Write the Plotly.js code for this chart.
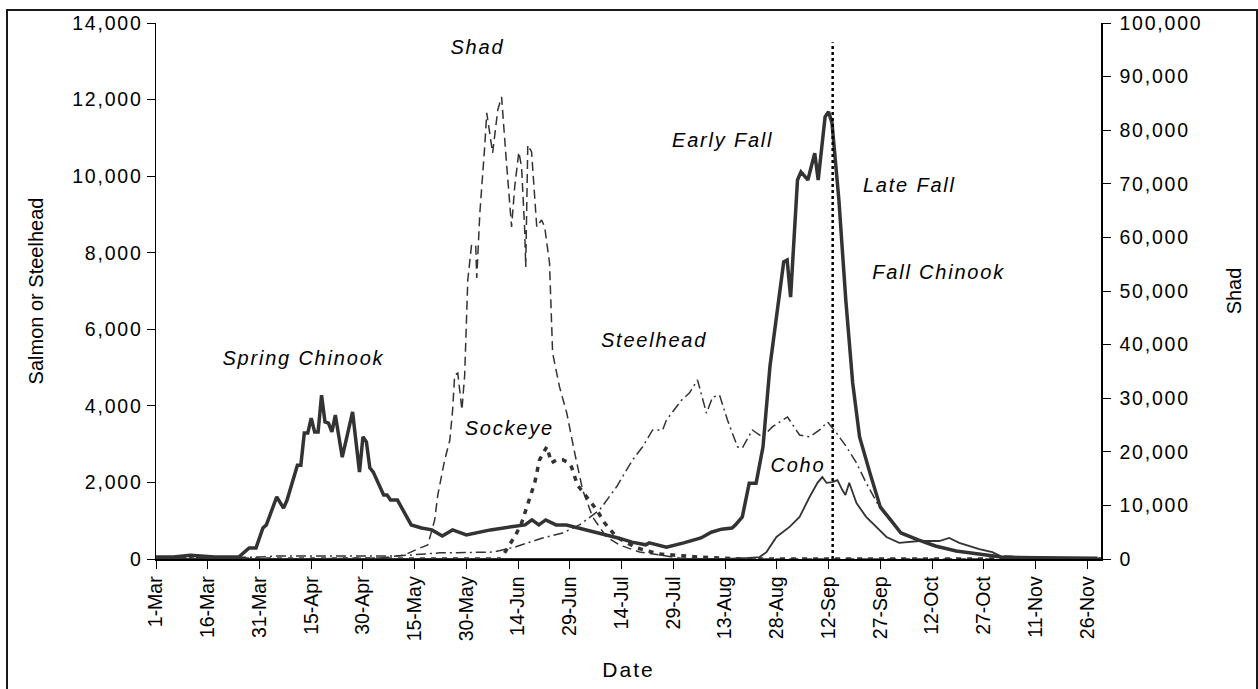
<!DOCTYPE html>
<html>
<head>
<meta charset="utf-8">
<script src="https://cdn.plot.ly/plotly-3.0.1.min.js"></script>
<style>
  html, body { margin: 0; padding: 0; background: #fff; }
  #wrap { position: relative; width: 1258px; height: 689px; overflow: hidden; }
  #chart { position: absolute; left: 0; top: 0; width: 1258px; height: 689px; }
  #frame { position: absolute; left: 6px; top: 9px; width: 1248px; height: 700px;
           border: 2px solid #1a1a1a; pointer-events: none; }
  /* the source picture is stretched horizontally: widen horizontal text only */
  #chart g.ytick text, #chart g.y2tick text, #chart text.annotation-text { letter-spacing: 1.8px; }
  #chart text.xtitle { letter-spacing: 2px; }
</style>
</head>
<body>
<div id="wrap">
  <div id="chart"></div>
  <div id="frame"></div>
</div>
<script>
// ---- Data (x = days after 1-Mar) ----
const xTickLabels = ['1-Mar','16-Mar','31-Mar','15-Apr','30-Apr','15-May','30-May','14-Jun','29-Jun',
  '14-Jul','29-Jul','13-Aug','28-Aug','12-Sep','27-Sep','12-Oct','27-Oct','11-Nov','26-Nov'];

// Chinook (spring + fall), left axis
const chinookDay = [0,5,10,17,24,27,29,31,32,35,37,38,41,42,43,44,45,46,47,48,49,50,51,52,54,55,57,59,60,61,62,63,66,67,68,70,72,74,77,80,83,86,90,97,103,107,109,111,113,116,119,125,131,134,138,142,143,148,153,158,161,164,167,168,170,172,174,176,178,179,182,183,184,186,187,189,191,192,194,195,196,198,200,202,204,207,210,213,216,221,226,232,239,245,256,273];
const chinookCount = [50,50,100,50,50,290,290,810,890,1620,1330,1540,2450,2450,3290,3290,3680,3320,3320,4280,3580,3550,3320,3760,2660,3030,3840,2270,3190,3060,2380,2270,1670,1670,1540,1540,1200,890,810,760,600,760,630,760,840,890,1020,890,1020,890,890,760,630,550,440,370,420,310,420,550,700,780,810,890,1100,1980,1980,2930,5020,5720,7760,7810,6840,9900,10110,9900,10600,9900,11550,11680,11390,9380,6770,4600,3190,2250,1360,1020,680,500,340,210,130,50,30,20];

// Shad, right axis
const shadDay = [0,40,64.9,72.1,76.5,78.8,80.8,81.7,83.7,85.2,86.0,86.6,87.5,88.1,88.7,89.5,90.4,91.5,92.7,93.0,93.9,95.3,95.9,96.5,97.6,99.1,100.2,101.4,103.1,104.0,105.2,106.0,106.9,107.2,107.8,108.9,110.4,111.8,112.7,114.1,115.0,117.0,119.1,121.4,123.7,126.6,130.6,134.4,140.2,151.8,160,274];
const shadCount = [0,0,190,750,2050,2610,7280,11940,18470,22200,27800,34330,34700,31530,27800,34330,52060,58600,58600,52440,64570,76880,83230,80610,75760,83790,86220,75760,61950,69410,75940,73140,61390,54490,77250,75940,61950,63260,61950,55230,38440,32100,27240,19780,12880,7840,4100,2610,1310,190,0,0];

// Sockeye, left axis
const sockeyeDay = [0,100,102.5,104.3,106.0,107.8,109.8,111.2,113.3,114.7,116.2,117.9,119.4,120.5,122.2,124.9,127.8,130.1,133.5,139.3,146.0,157.6,170,274];
const sockeyeCount = [0,0,370,630,940,1460,1990,2590,2930,2510,2590,2590,2530,2400,1930,1620,1280,940,575,290,130,50,0,0];

// Steelhead, left axis
const steelheadDay = [0,30,35,70,82.3,97.6,104.0,112.1,117.9,122.8,128.6,133.5,138.2,141.1,144.0,146.9,148.0,152.4,154.7,157.0,159.6,161.4,163.4,165.7,168.6,170.0,172.9,175.8,178.7,183.1,186.6,189.5,192.4,194.7,197.3,200.2,203.1,205.9,209.7,212.6,216.4,221.3,226.2,232.0,238.7,244.5,260,274];
const steelheadCount = [30,50,80,80,160,180,310,550,680,890,1280,1880,2590,2930,3370,3370,3630,4150,4340,4680,3810,4230,4280,3630,2930,2900,3370,3190,3450,3710,3240,3190,3370,3580,3290,2930,2510,1990,1360,1020,650,470,310,210,130,80,30,20];

// Coho, left axis
const cohoDay = [0,165,172.1,175.0,177.0,179.9,183.7,186.6,189.5,191.8,193.2,194.4,196.1,197.6,199.0,199.9,201.0,203.1,205.9,209.7,211.8,215.5,221.3,227.1,230.0,232.9,238.7,242.5,245.4,255,274];
const cohoCount = [0,0,30,50,180,575,840,1100,1620,1990,2140,1990,2010,2060,1800,1670,1990,1460,1100,760,575,420,470,470,550,420,260,180,50,20,10];

// Early/late fall separator
const separatorDay = [196.2, 196.2];
const separatorCount = [0, 13500];

// Labels
const labelTexts = ['Shad','Spring Chinook','Sockeye','Steelhead','Coho','Early Fall','Late Fall','Fall Chinook'];
const labelDay   = [93.3, 42.9, 102.5, 144.6, 186.0, 164.5, 218.4, 227.1];
const labelCount = [13370, 5250, 3420, 5720, 2455, 10940, 9770, 7500];

const LINE = '#333333';
const FONT = 'Liberation Sans, Arial, Helvetica, sans-serif';

const traces = [
  { name:'Shad', x: shadDay, y: shadCount, yaxis:'y2', mode:'lines',
    line:{color:LINE, width:1.5, dash:'9px,5px'} },
  { name:'Steelhead', x: steelheadDay, y: steelheadCount, mode:'lines',
    line:{color:LINE, width:1.5, dash:'10px,4px,2px,4px'} },
  { name:'Coho', x: cohoDay, y: cohoCount, mode:'lines',
    line:{color:LINE, width:1.8} },
  { name:'Sockeye', x: sockeyeDay, y: sockeyeCount, mode:'lines',
    line:{color:LINE, width:3.5, dash:'5px,6px'} },
  { name:'Chinook', x: chinookDay, y: chinookCount, mode:'lines',
    line:{color:LINE, width:3.5} },
  { name:'Separator', x: separatorDay, y: separatorCount, mode:'lines',
    line:{color:'#000', width:2.5, dash:'dot'} }
];

const tickVals = xTickLabels.map((_, i) => i * 15);

const layout = {
  width: 1258, height: 689,
  margin: {l:156, r:157, t:23, b:130},
  paper_bgcolor:'#fff', plot_bgcolor:'#fff',
  showlegend:false, hovermode:false,
  font:{family:FONT, color:'#000', size:19},
  xaxis: {
    range:[0,274], tickvals: tickVals, ticktext: xTickLabels, tickangle:-90,
    ticks:'outside', ticklen:8, tickcolor:'#000', tickwidth:1,
    showline:true, linecolor:'#000', linewidth:1.5, showgrid:false, zeroline:false,
    tickfont:{family:FONT, size:19.5, color:'#000'},
    title:{text:'Date', font:{family:FONT, size:21, color:'#000'}, standoff:22}
  },
  xaxis2: {
    overlaying:'x', anchor:'y', side:'bottom', range:[0,274], tickvals: tickVals,
    ticks:'inside', ticklen:7, tickcolor:'#000', showticklabels:false,
    showline:false, showgrid:false, zeroline:false
  },
  yaxis: {
    range:[0,14000], dtick:2000, tick0:0, tickformat:',d',
    ticks:'outside', ticklen:8, tickcolor:'#000',
    showline:true, linecolor:'#000', linewidth:1.5, showgrid:false, zeroline:false,
    tickfont:{family:FONT, size:19.5, color:'#000'},
    title:{text:'Salmon or Steelhead', font:{family:FONT, size:20, color:'#000'}, standoff:34}
  },
  yaxis2: {
    overlaying:'y', side:'right', anchor:'x', range:[0,100000], dtick:10000, tick0:0, tickformat:',d',
    ticks:'outside', ticklen:8, tickcolor:'#000', ticklabelstandoff:5,
    showline:true, linecolor:'#000', linewidth:1.5, showgrid:false, zeroline:false,
    tickfont:{family:FONT, size:19.5, color:'#000'},
    title:{text:'Shad', font:{family:FONT, size:20, color:'#000'}, standoff:38}
  },
  yaxis3: {
    overlaying:'y', side:'left', anchor:'x', range:[0,14000], dtick:2000, tick0:0,
    ticks:'inside', ticklen:7, tickcolor:'#000', showticklabels:false,
    showline:false, showgrid:false, zeroline:false
  },
  yaxis4: {
    overlaying:'y', side:'right', anchor:'x', range:[0,100000], dtick:10000, tick0:0,
    ticks:'inside', ticklen:7, tickcolor:'#000', showticklabels:false,
    showline:false, showgrid:false, zeroline:false
  },
  annotations: labelTexts.map((t, i) => ({
    text: '<i>' + t + '</i>', x: labelDay[i], y: labelCount[i], xref:'x', yref:'y',
    showarrow:false, font:{family:FONT, size:20, color:'#000'},
    xanchor:'center', yanchor:'middle'
  }))
};

Plotly.newPlot('chart', traces, layout, {staticPlot:true, displayModeBar:false});
</script>
</body>
</html>
